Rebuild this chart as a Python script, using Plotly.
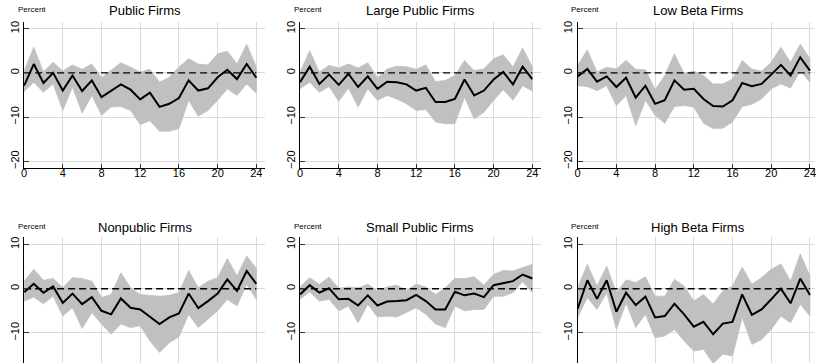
import plotly.graph_objects as go

# Months after the shock
horizon = list(range(25))

# Public firms: point estimate and confidence band
public_est = [-2.9, 2.0, -2.3, 0.0, -4.0, -0.6, -4.1, -1.7, -5.5, -4.0, -2.6, -3.8, -6.0,
              -4.5, -7.7, -7.0, -5.7, -1.7, -4.0, -3.5, -1.0, 0.7, -1.4, 2.0, -1.1]
public_hi = [0.5, 5.8, 0.2, 2.4, 0.4, 1.8, 0.8, 2.0, -1.1, 0.5, 2.3, 1.3, 0.2,
             0.8, -2.1, -1.0, 1.3, 3.2, 2.0, 1.8, 4.3, 4.9, 2.0, 6.5, 1.3]
public_lo = [-4.2, -2.1, -4.4, -2.5, -8.5, -3.2, -9.1, -5.1, -9.6, -7.7, -7.6, -8.5, -11.7,
             -10.8, -13.2, -13.2, -12.6, -6.2, -9.8, -8.5, -6.2, -3.6, -5.1, -2.5, -4.6]

# Large public firms
large_est = [-2.1, 1.4, -2.5, -0.4, -2.7, -0.2, -3.2, -0.8, -3.6, -2.0, -2.1, -2.6, -4.0,
             -3.4, -6.6, -6.6, -5.9, -1.5, -5.1, -4.0, -1.5, 0.2, -2.6, 1.4, -1.4]
large_hi = [0.2, 5.0, 0.2, 1.7, 1.1, 2.0, 1.1, 2.3, -1.1, 0.9, 1.5, 1.4, 0.8,
            1.8, -2.0, -1.7, -0.6, 2.8, 0.5, 0.9, 3.2, 4.1, 1.3, 5.6, 1.4]
large_lo = [-3.6, -2.1, -4.4, -3.1, -6.4, -3.4, -7.7, -3.6, -6.2, -5.1, -5.9, -7.0, -8.5,
            -8.3, -11.1, -11.5, -11.5, -5.5, -10.4, -8.9, -6.2, -3.8, -6.2, -2.9, -4.1]

# Low beta firms
lowbeta_est = [-0.8, 0.9, -2.0, -0.8, -3.2, -1.1, -5.6, -2.9, -7.0, -6.2, -1.7, -3.8, -3.6,
               -5.9, -7.5, -7.6, -6.2, -2.3, -3.0, -2.5, -0.4, 1.8, -0.6, 3.5, 0.5]
lowbeta_hi = [1.7, 5.2, 0.2, 1.3, 0.9, 2.8, 0.8, 0.7, -3.8, -0.6, 4.3, -0.2, 0.4,
              -0.6, -2.5, -2.5, -1.4, 2.8, 0.9, 0.4, 2.4, 5.8, 2.4, 6.5, 3.2]
lowbeta_lo = [-2.9, -3.1, -4.0, -2.9, -7.4, -5.1, -11.9, -6.2, -9.6, -11.4, -7.6, -7.4, -7.7,
              -11.4, -12.6, -12.5, -11.1, -7.6, -7.1, -5.9, -3.6, -2.5, -3.4, 0.5, -2.1]

# Nonpublic firms
nonpublic_est = [-0.8, 1.1, -0.9, 0.5, -3.2, -1.1, -3.5, -1.9, -5.0, -5.8, -2.2, -4.3, -4.7,
                 -6.4, -8.0, -6.5, -5.6, -1.1, -4.4, -2.8, -1.1, 2.1, -0.5, 4.0, 1.1]
nonpublic_hi = [1.7, 4.4, 1.9, 2.3, 0.2, 2.5, 2.3, 1.7, -2.0, -1.3, 3.6, 0.2, -1.3,
                -1.5, -1.7, -1.5, -0.9, 4.1, 0.2, 1.7, 2.5, 6.8, 2.9, 7.4, 4.6]
nonpublic_lo = [-2.8, -1.9, -3.4, -1.7, -6.2, -4.3, -9.0, -5.4, -8.0, -10.3, -8.0, -8.8, -8.4,
                -11.8, -14.4, -12.2, -10.9, -5.8, -8.8, -6.9, -5.0, -2.4, -3.9, 1.0, -2.4]

# Small public firms
small_est = [-1.3, 0.8, -0.9, 0.1, -2.4, -2.3, -3.8, -1.5, -3.8, -2.9, -2.8, -2.6, -1.4,
             -2.8, -4.7, -4.7, -0.7, -1.5, -1.1, -1.9, 0.8, 1.3, 1.7, 3.2, 2.3]
small_hi = [0.4, 2.5, 1.0, 2.6, 0.1, 0.4, 0.2, 1.0, -0.5, 0.4, 0.8, -0.4, 1.0,
            0.4, -1.3, 0.2, 2.3, 2.3, 2.7, 0.8, 3.2, 4.1, 4.0, 4.7, 5.5]
small_lo = [-2.4, -0.7, -2.8, -2.4, -5.0, -3.9, -7.7, -3.5, -6.4, -6.2, -6.4, -5.4, -4.3,
            -5.8, -8.0, -8.8, -3.9, -5.0, -4.7, -4.7, -1.7, -1.7, -0.9, 1.6, -0.9]

# High beta firms
highbeta_est = [-4.5, 1.9, -2.3, 1.9, -5.2, -0.9, -3.7, -1.8, -6.5, -6.2, -3.4, -5.8, -8.6,
                -7.5, -10.3, -7.9, -7.5, -1.3, -5.9, -4.7, -2.4, 0.0, -3.3, 2.3, -1.4]
highbeta_hi = [0.2, 5.5, 0.6, 5.1, -0.9, 2.0, 1.4, 2.7, -1.7, -1.7, 2.1, 0.6, -2.8,
               -1.3, -3.5, -0.5, 0.6, 4.9, 1.0, 2.5, 4.4, 5.6, 1.7, 7.9, 2.9]
highbeta_lo = [-6.5, -2.0, -4.7, -0.9, -9.2, -3.2, -8.8, -5.8, -11.1, -10.7, -9.2, -11.8, -14.1,
               -13.7, -16.9, -14.8, -15.2, -6.5, -12.6, -11.5, -9.2, -6.2, -7.7, -3.5, -6.2]

panel_titles = ["Public Firms", "Large Public Firms", "Low Beta Firms",
                "Nonpublic Firms", "Small Public Firms", "High Beta Firms"]
panel_data = [
    (public_est, public_lo, public_hi),
    (large_est, large_lo, large_hi),
    (lowbeta_est, lowbeta_lo, lowbeta_hi),
    (nonpublic_est, nonpublic_lo, nonpublic_hi),
    (small_est, small_lo, small_hi),
    (highbeta_est, highbeta_lo, highbeta_hi),
]
x_ticks = [0, 4, 8, 12, 16, 20, 24]
y_ticks = [10, 0, -10, -20]

# Page geometry (pixels)
W, H = 816, 364
col_left = [21.2, 298.5, 577.5]
plot_w = 242.0
px_per_unit = 9.725
row_top = [20.7, 237.7]
row_bottom = [168.3, 364.0]
row_yrange = [[-21.6, 11.6], [-16.8, 11.6]]
title_y = [10.0, 227.5]

FONT = "Liberation Sans, Arial, sans-serif"
BAND = "#c0c0c0"
GRID = "#dadada"

fig = go.Figure()
layout = dict(
    width=W, height=H,
    margin=dict(l=0, r=0, t=0, b=0),
    paper_bgcolor="white", plot_bgcolor="white",
    showlegend=False,
    font=dict(family=FONT, color="black"),
    annotations=[],
)

for i, (title, (est, lo, hi)) in enumerate(zip(panel_titles, panel_data)):
    row, col = divmod(i, 3)
    n = i + 1
    xa = "x" if n == 1 else f"x{n}"
    ya = "y" if n == 1 else f"y{n}"

    left = col_left[col]
    right = min(left + plot_w, W)
    x_max = (right - left) / px_per_unit

    # Confidence band as a closed polygon
    fig.add_trace(go.Scatter(
        x=horizon + horizon[::-1], y=hi + lo[::-1],
        fill="toself", fillcolor=BAND, mode="lines",
        line=dict(color=BAND, width=0.8), hoverinfo="skip",
        xaxis=xa, yaxis=ya))
    # Zero reference
    fig.add_trace(go.Scatter(
        x=[horizon[0], horizon[-1]], y=[0, 0], mode="lines",
        line=dict(color="black", width=1.4, dash="7px,4px"),
        xaxis=xa, yaxis=ya))
    # Point estimate
    fig.add_trace(go.Scatter(
        x=horizon, y=est, mode="lines",
        line=dict(color="black", width=2),
        xaxis=xa, yaxis=ya))

    top_px, bot_px = row_top[row], row_bottom[row]
    bottom_row = row == 1
    layout[f"xaxis{'' if n == 1 else n}"] = dict(
        domain=[left / W, right / W], range=[0, x_max], anchor=ya,
        tickvals=x_ticks, showticklabels=not bottom_row,
        ticks="" if bottom_row else "inside", ticklen=4, tickcolor="#333",
        ticklabelstandoff=-6, ticklabeloverflow="allow",
        tickfont=dict(size=11, family=FONT, color="black"),
        showline=not bottom_row, linecolor="black", linewidth=1,
        showgrid=True, gridcolor=GRID, gridwidth=1, zeroline=False,
        fixedrange=True)
    layout[f"yaxis{'' if n == 1 else n}"] = dict(
        domain=[1 - bot_px / H, 1 - top_px / H], range=row_yrange[row], anchor=xa,
        tickvals=y_ticks, tickangle=-90,
        ticks="inside", ticklen=5, tickcolor="#333",
        tickfont=dict(size=11, family=FONT, color="black"),
        showline=True, linecolor="black", linewidth=1,
        showgrid=True, gridcolor=GRID, gridwidth=1, zeroline=False,
        fixedrange=True)

    center_px = (left + left + plot_w) / 2
    layout["annotations"].append(dict(
        text=title, xref="paper", yref="paper",
        x=center_px / W, y=1 - title_y[row] / H,
        xanchor="center", yanchor="middle", showarrow=False,
        font=dict(size=13, family=FONT, color="black")))
    layout["annotations"].append(dict(
        text="Percent", xref="paper", yref="paper",
        x=(left - 8.5) / W, y=1 - (title_y[row] - 1) / H,
        xanchor="left", yanchor="middle", showarrow=False,
        font=dict(size=8, family=FONT, color="black")))

fig.update_layout(**layout)
fig.write_html("out.html")
